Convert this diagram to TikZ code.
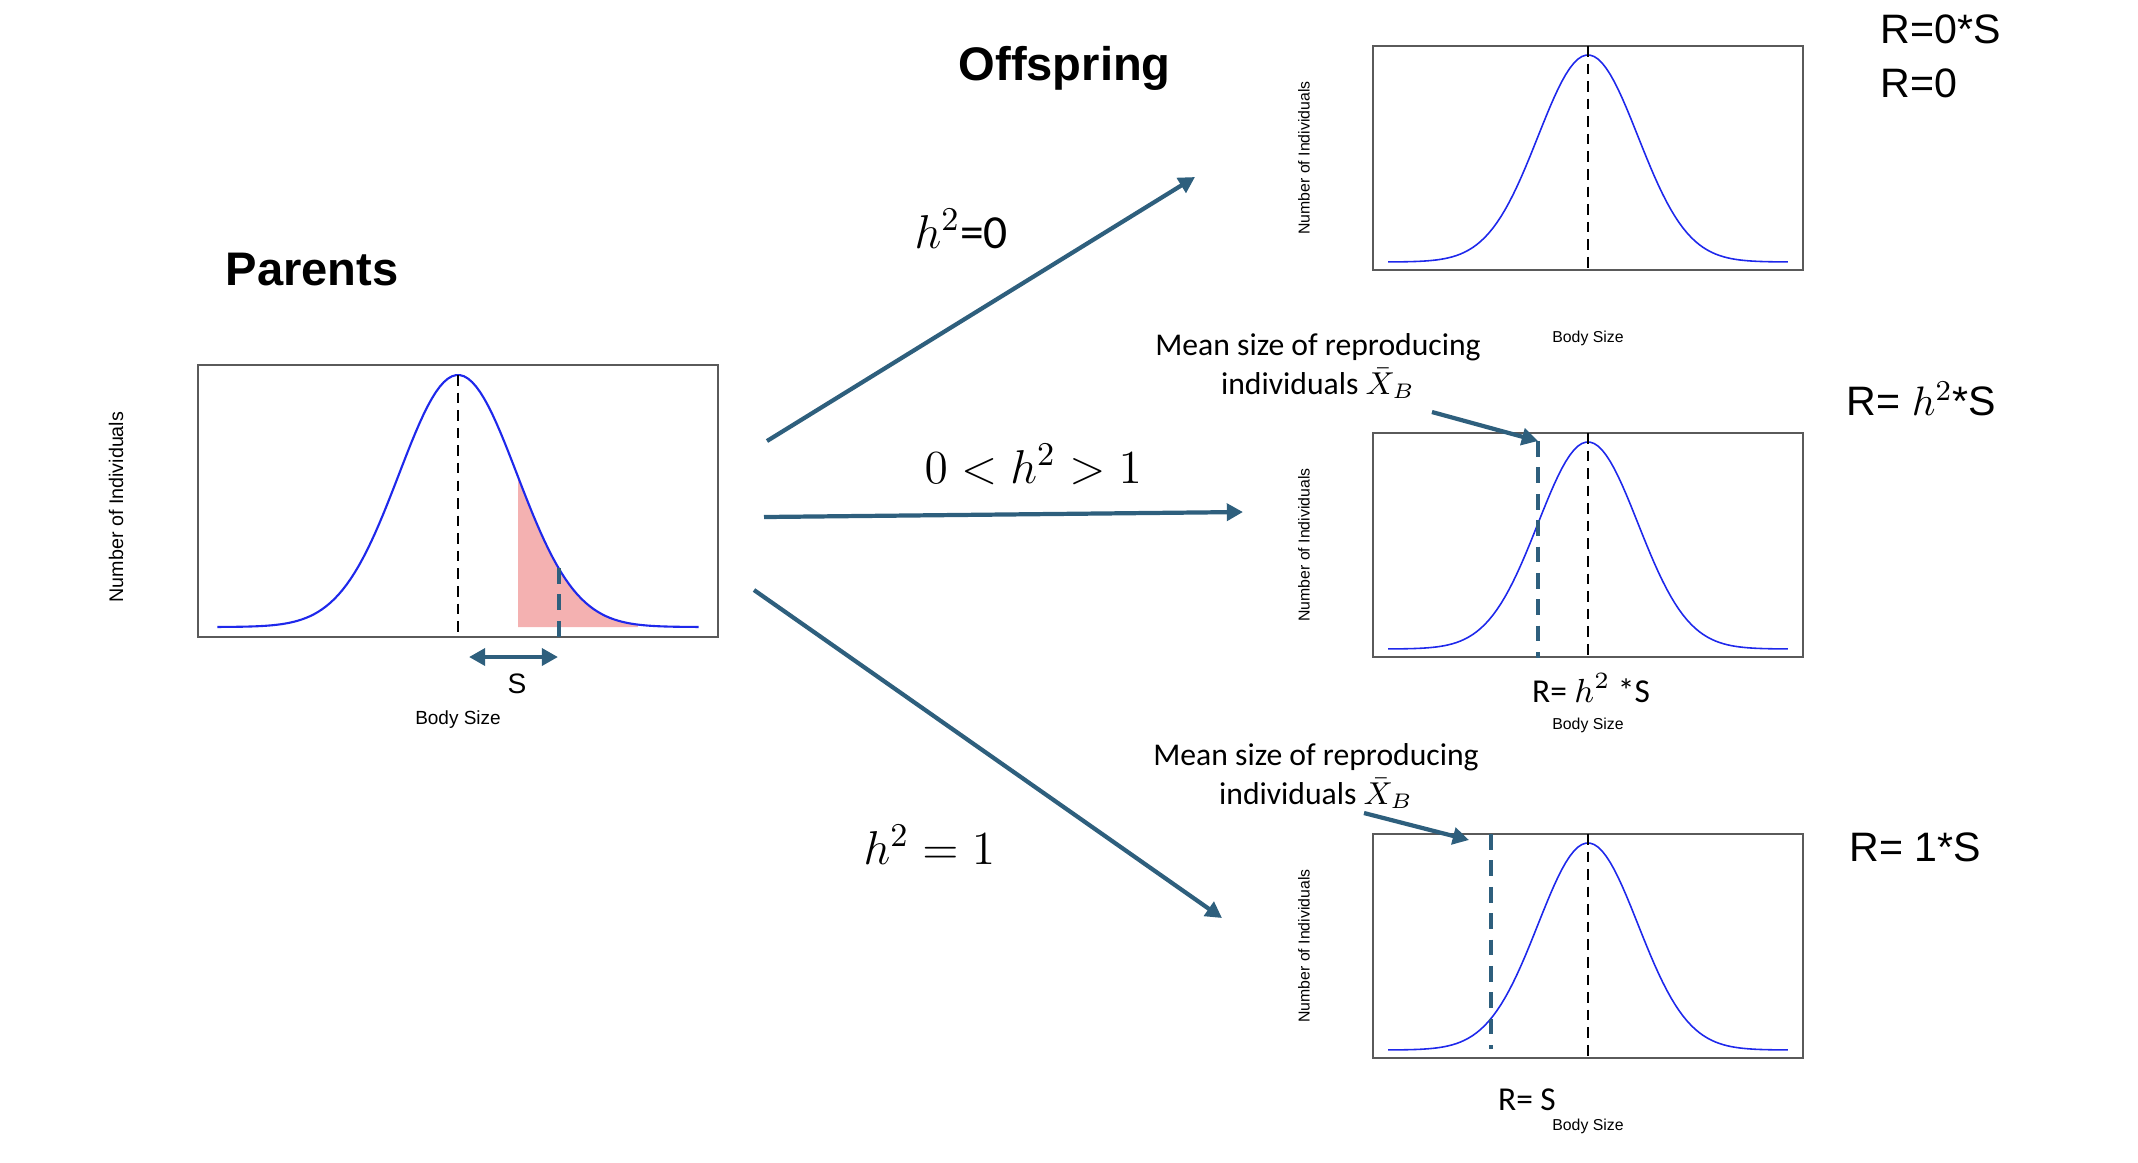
\documentclass[tikz,border=0pt]{standalone}
\usepackage{fix-cm}
\usepackage{fontspec}
\setmainfont{Carlito}
\newfontfamily\arialfont{Liberation Sans}
\usetikzlibrary{arrows.meta}
\definecolor{arrowblue}{RGB}{46,95,125}
\definecolor{curveblue}{RGB}{30,40,235}
\definecolor{pinkfill}{RGB}{244,177,177}
\definecolor{boxgray}{RGB}{90,90,90}
\begin{document}
\begin{tikzpicture}[x=0.01cm,y=-0.01cm,
    plotbox/.style={draw=boxgray,line width=0.6pt,minimum width=4.3cm,minimum height=2.24cm,inner sep=0pt,outer sep=0pt},
    bell/.style={curveblue,line width=0.45pt},
    meanline/.style={line width=0.4pt,dash pattern=on 3pt off 2pt},
    selline/.style={arrowblue,line width=0.9pt,dash pattern=on 4.5pt off 3pt},
    arr/.style={arrowblue,line width=1.2pt,-{Triangle[length=4.6pt,width=4.8pt]}},
    title/.style={font=\arialfont\bfseries\fontsize{13.4}{16}\selectfont,inner sep=0pt},
    rlab/.style={font=\arialfont\fontsize{11.7}{14}\selectfont,inner sep=0pt},
    hlab/.style={font=\fontsize{13.5}{16}\selectfont,inner sep=0pt},
    nlab/.style={font=\fontsize{9}{11}\selectfont,inner sep=0pt},
    ylab/.style={font=\arialfont\fontsize{4.5}{5}\selectfont,rotate=90,inner sep=0pt},
    xlab/.style={font=\arialfont\fontsize{4.5}{5}\selectfont,inner sep=0pt}]
  \useasboundingbox (0,0) rectangle (2138,1162);

  % parents
  \node[title,anchor=base west] (partitle) at (225,285) {Parents};
  \fill[pinkfill] (518,627) -- plot[domain=1.017:3.05,samples=40] ({458+59*\x},{627-252*exp(-(\x)^2/2)}) -- (638,627) -- cycle;
  \node[plotbox,minimum width=5.2cm,minimum height=2.72cm] (par) at (458,501) {};
  \draw[bell,line width=0.6pt] plot[domain=-4.08:4.08,samples=120] ({458+59*\x},{627-252*exp(-(\x)^2/2)});
  \draw[meanline] (458,375) -- (458,637);
  \draw[selline] (559,568) -- (559,637);
  \node[ylab,font=\arialfont\fontsize{5.6}{6}\selectfont] (parylab) at (116,507) {Number of Individuals};
  \node[xlab,font=\arialfont\fontsize{5.4}{6}\selectfont] (parxlab) at (458,720) {Body Size};
  \coordinate (sl) at (469,657);
  \coordinate (sr) at (558,657);
  \draw[arr,{Triangle[length=4.6pt,width=4.8pt]}-{Triangle[length=4.6pt,width=4.8pt]}] (sl) -- (sr);
  \node[font=\arialfont\fontsize{8}{9}\selectfont,inner sep=0pt] (slab) at (517,684) {S};

  % offspring
  \node[title,anchor=base west] (offtitle) at (958,80) {Offspring};
  \foreach \t/\n in {46/top,433/mid,834/bot}{
    \node[plotbox] (off\n) at (1588,\t+112) {};
    \draw[bell] plot[domain=-4:4,samples=100] ({1588+50*\x},{\t+216-207*exp(-(\x)^2/2)});
    \draw[meanline] (off\n.north) -- (off\n.south);
    \node[ylab] at (1304,\t+112) {Number of Individuals};
    \node[xlab] at (1588,\t+292) {Body Size};
  }
  \draw[selline] (1538,441) -- (1538,658);
  \draw[selline] (1491,834) -- (1491,1049);

  % arrows from parents
  \coordinate (up0) at (767,441);
  \coordinate (up1) at (1195,177);
  \coordinate (mid0) at (764,517);
  \coordinate (mid1) at (1243,512);
  \coordinate (dn0) at (754,590);
  \coordinate (dn1) at (1222,918);
  \draw[arr] (up0) -- (up1);
  \draw[arr] (mid0) -- (mid1);
  \draw[arr] (dn0) -- (dn1);
  \node[hlab,anchor=base west] (hzero) at (914,248) {$h^2$=0};
  \node[hlab,anchor=base west] (hpart) at (924,483) {$0<h^2>1$};
  \node[hlab,anchor=base west] (hone) at (863,864) {$h^2=1$};

  % notes
  \node[nlab,align=center] (note1) at (1318,366) {Mean size of reproducing\\individuals $\bar{X}_B$};
  \node[nlab,align=center] (note2) at (1316,776) {Mean size of reproducing\\individuals $\bar{X}_B$};
  \coordinate (n1a) at (1432,412);
  \coordinate (n1b) at (1538,441);
  \coordinate (n2a) at (1364,813);
  \coordinate (n2b) at (1469,840);
  \draw[arr] (n1a) -- (n1b);
  \draw[arr] (n2a) -- (n2b);
  \node[nlab,font=\fontsize{9.5}{11}\selectfont] (rmid) at (1591,688) {R= $h^2$ *S};
  \node[nlab,font=\fontsize{9.5}{11}\selectfont] (rbot) at (1527,1100) {R= S};

  % responses
  \node[rlab,anchor=base west] (rzs) at (1880,43) {R=0*S};
  \node[rlab,anchor=base west] (rz) at (1880,97) {R=0};
  \node[rlab,anchor=base west] (rhs) at (1846,415) {R= $h^2$*S};
  \node[rlab,anchor=base west] (ros) at (1849,861) {R= 1*S};
\end{tikzpicture}
\end{document}
